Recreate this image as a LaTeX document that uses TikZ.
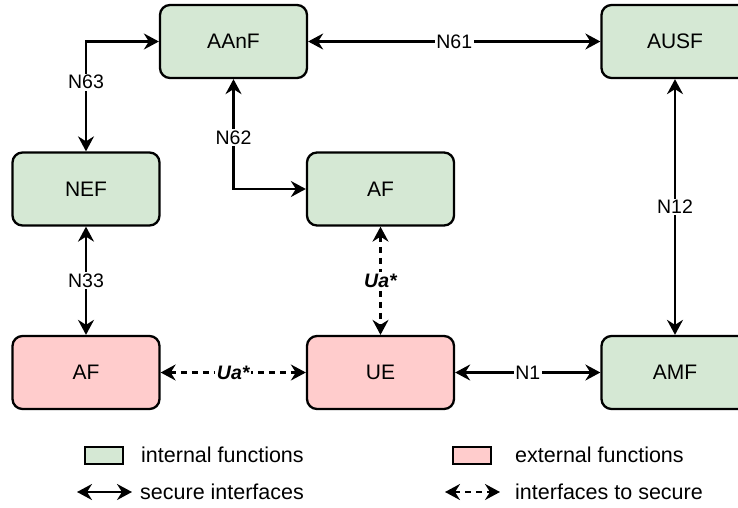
\documentclass[tikz,border=0pt]{standalone}
\usepackage{fontspec}
\setmainfont{Liberation Sans}
\usetikzlibrary{arrows.meta}
\definecolor{gfill}{HTML}{D5E8D4}
\definecolor{rfill}{HTML}{FFCCCC}
\begin{document}
\begin{tikzpicture}[x=1pt,y=-1pt,
  fn/.style={draw=black, line width=2.3pt, rounded corners=10pt, minimum width=147pt, minimum height=73pt, inner sep=0pt, font=\fontsize{21}{25}\selectfont},
  internal/.style={fn, fill=gfill},
  external/.style={fn, fill=rfill},
  link/.style={line width=2.2pt, {Stealth[length=15pt,width=16pt,inset=5pt]}-{Stealth[length=15pt,width=16pt,inset=5pt]}},
  tosecure/.style={link, dash pattern=on 6pt off 5pt},
  lbl/.style={fill=white, inner sep=1.5pt, font=\fontsize{19.5}{23}\selectfont},
  ualbl/.style={lbl, font=\fontsize{19.5}{23}\selectfont\bfseries\itshape},
  keybox/.style={draw=black, line width=1.8pt, minimum width=38pt, minimum height=17pt, inner sep=0pt},
  keytext/.style={anchor=west, inner sep=0pt, font=\fontsize{21.5}{25}\selectfont}]
\useasboundingbox (0,0) rectangle (738,508);
\clip (0,0) rectangle (738,508);
\fill[white] (0,0) rectangle (738,508);
% nodes
\node[internal] (aanf) at (233.5,41.5) {AAnF};
\node[internal] (ausf) at (675,41.5) {AUSF};
\node[internal] (nef) at (86,189) {NEF};
\node[internal] (af1) at (380.5,189) {AF};
\node[external] (af2) at (86,372.5) {AF};
\node[external] (ue) at (380.5,372.5) {UE};
\node[internal] (amf) at (675,372.5) {AMF};
% connectors
\draw[link] (nef.north) -- node[lbl, pos=0.63] {N63} (nef.north |- aanf.west) -- (aanf.west);
\draw[link] (aanf.south) -- node[lbl, pos=0.53] {N62} (aanf.south |- af1.west) -- (af1.west);
\draw[link] (aanf.east) -- node[lbl] {N61} (ausf.west);
\draw[link] (ausf.south) -- node[lbl] {N12} (amf.north);
\draw[link] (nef.south) -- node[lbl] {N33} (af2.north);
\draw[tosecure] (af1.south) -- node[ualbl] {Ua*} (ue.north);
\draw[tosecure] (af2.east) -- node[ualbl] {Ua*} (ue.west);
\draw[link] (ue.east) -- node[lbl] {N1} (amf.west);
% legend
\node[keybox, fill=gfill] (kint) at (104,455.5) {};
\node[keytext] (tint) at (141,455) {internal functions};
\node[keybox, fill=rfill] (kext) at (472,455.5) {};
\node[keytext] (text) at (515,455) {external functions};
\coordinate (s1) at (77,492);
\coordinate (s2) at (132,492);
\draw[link] (s1) -- (s2);
\node[keytext] (tsec) at (140,492) {secure interfaces};
\coordinate (d1) at (445,492);
\coordinate (d2) at (500,492);
\draw[tosecure] (d1) -- (d2);
\node[keytext] (ttos) at (515,492) {interfaces to secure};
\end{tikzpicture}
\end{document}
